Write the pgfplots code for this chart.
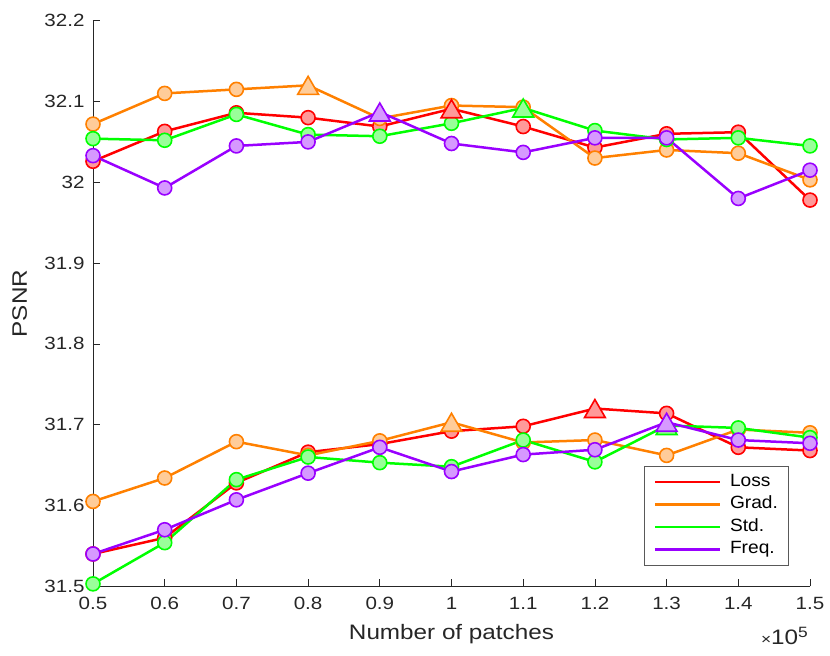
\documentclass[border=0pt]{standalone}
\usepackage{pgfplots}
\pgfplotsset{compat=1.18}
\usepackage{fontspec}
\setmainfont[FakeStretch=1.16]{Liberation Sans}
\newfontfamily\legfont[FakeStretch=1.08]{Liberation Sans}
\definecolor{cL}{rgb}{1,0,0}
\definecolor{fL}{rgb}{1,0.6,0.6}
\definecolor{cG}{rgb}{1,0.5,0}
\definecolor{fG}{rgb}{1,0.8,0.6}
\definecolor{cS}{rgb}{0,1,0}
\definecolor{fS}{rgb}{0.6,1,0.6}
\definecolor{cF}{rgb}{0.6,0,1}
\definecolor{fF}{rgb}{0.84,0.6,1}
\definecolor{axc}{rgb}{0.15,0.15,0.15}
\pgfplotsset{
  ser/.style n args={3}{#1, line width=2.5bp, mark=*, mark size=7bp,
    mark options={fill=#2, line width=1.6bp}, mark indices={#3}},
  tri/.style 2 args={#1, only marks, mark=triangle*, mark size=12bp,
    mark options={fill=#2, line width=1.6bp, yshift=-3bp}, forget plot},
}
\begin{document}
\begin{tikzpicture}
\begin{axis}[
  name=ax, at={(0,0)}, anchor=south west,
  scale only axis, width=717bp, height=565.6bp,
  xmin=0.5, xmax=1.5, ymin=31.5, ymax=32.2,
  axis lines*=left,
  axis line style={color=axc, line width=0.7bp},
  tick align=inside, major tick length=7bp,
  tick style={color=axc, line width=0.7bp},
  xtick={0.5,0.6,0.7,0.8,0.9,1,1.1,1.2,1.3,1.4,1.5},
  ytick={31.5,31.6,31.7,31.8,31.9,32,32.1,32.2},
  minor tick num=0,
  /pgf/number format/assume math mode=true,
  ticklabel style={font=\fontsize{17.8}{20}\selectfont, text=axc},
  xticklabel style={yshift=-7.5bp},
  yticklabel style={xshift=-5bp},
  xlabel={Number of patches}, ylabel={PSNR},
  label style={font=\fontsize{21}{24}\selectfont, text=axc},
  xlabel style={at={(axis description cs:0.5,-0.0949)}, anchor=base},
  ylabel style={at={(axis description cs:-0.0921,0.5)}, anchor=base, rotate=0},
  legend cell align=left,
  legend style={at={(axis description cs:0.9697,0.0371)}, anchor=south east,
    draw=black!65, line width=0.7bp, font=\legfont\fontsize{17.8}{20}\selectfont,
    inner xsep=10bp, inner ysep=7bp, row sep=5.5bp, column sep=8.4bp,
    nodes={inner xsep=0bp, inner ysep=0bp, text height=13bp, text depth=4bp}},
  legend image code/.code={\draw[#1, mark=none, line width=2.5bp] (4.3bp,0bp) -- (69.3bp,0bp);},
  clip=false,
]
% upper group
\addplot[ser={cL}{fL}{1,2,3,4,5,7,8,9,10,11}] coordinates {
(0.5,32.026) (0.6,32.063) (0.7,32.086) (0.8,32.080) (0.9,32.069) (1.0,32.091)
(1.1,32.069) (1.2,32.043) (1.3,32.060) (1.4,32.062) (1.5,31.978)};
\addlegendentry{Loss}
\addplot[ser={cG}{fG}{1,2,3,5,6,7,8,9,10,11}] coordinates {
(0.5,32.072) (0.6,32.110) (0.7,32.115) (0.8,32.120) (0.9,32.079) (1.0,32.095)
(1.1,32.093) (1.2,32.030) (1.3,32.040) (1.4,32.036) (1.5,32.003)};
\addlegendentry{Grad.}
\addplot[ser={cS}{fS}{1,2,3,4,5,6,8,9,10,11}] coordinates {
(0.5,32.054) (0.6,32.052) (0.7,32.084) (0.8,32.059) (0.9,32.057) (1.0,32.073)
(1.1,32.092) (1.2,32.064) (1.3,32.053) (1.4,32.055) (1.5,32.045)};
\addlegendentry{Std.}
\addplot[ser={cF}{fF}{1,2,3,4,6,7,8,9,10,11}] coordinates {
(0.5,32.033) (0.6,31.993) (0.7,32.045) (0.8,32.050) (0.9,32.087) (1.0,32.048)
(1.1,32.037) (1.2,32.055) (1.3,32.055) (1.4,31.980) (1.5,32.015)};
\addlegendentry{Freq.}
% lower group
\addplot[ser={cL}{fL}{1,2,3,4,5,6,7,9,10,11}, forget plot] coordinates {
(0.5,31.540) (0.6,31.560) (0.7,31.628) (0.8,31.666) (0.9,31.676) (1.0,31.692)
(1.1,31.698) (1.2,31.720) (1.3,31.714) (1.4,31.672) (1.5,31.668)};
\addplot[ser={cG}{fG}{1,2,3,4,5,7,8,9,10,11}, forget plot] coordinates {
(0.5,31.605) (0.6,31.634) (0.7,31.679) (0.8,31.662) (0.9,31.680) (1.0,31.703)
(1.1,31.678) (1.2,31.681) (1.3,31.662) (1.4,31.694) (1.5,31.690)};
\addplot[ser={cS}{fS}{1,2,3,4,5,6,7,8,10,11}, forget plot] coordinates {
(0.5,31.503) (0.6,31.554) (0.7,31.632) (0.8,31.660) (0.9,31.653) (1.0,31.648)
(1.1,31.681) (1.2,31.654) (1.3,31.699) (1.4,31.696) (1.5,31.684)};
\addplot[ser={cF}{fF}{1,2,3,4,5,6,7,8,10,11}, forget plot] coordinates {
(0.5,31.540) (0.6,31.570) (0.7,31.607) (0.8,31.640) (0.9,31.672) (1.0,31.642)
(1.1,31.663) (1.2,31.669) (1.3,31.703) (1.4,31.681) (1.5,31.677)};
% maxima
\addplot[tri={cL}{fL}] coordinates {(1.0,32.091) (1.2,31.720)};
\addplot[tri={cG}{fG}] coordinates {(0.8,32.120) (1.0,31.703)};
\addplot[tri={cS}{fS}] coordinates {(1.1,32.092) (1.3,31.699)};
\addplot[tri={cF}{fF}] coordinates {(0.9,32.087) (1.3,31.703)};
\end{axis}
\node[anchor=base east, text=axc, inner sep=0pt]
  at ([xshift=-2bp,yshift=-58.7bp]ax.south east)
  {{\fontsize{15}{18}\selectfont ×}{\fontsize{21}{24}\selectfont 10}\raisebox{7.6bp}{\fontsize{15}{18}\selectfont 5}};
\pgfresetboundingbox
\path ([xshift=-93bp,yshift=-69.7bp]ax.south west) rectangle ([xshift=20bp,yshift=20.7bp]ax.north east);
\end{tikzpicture}
\end{document}
